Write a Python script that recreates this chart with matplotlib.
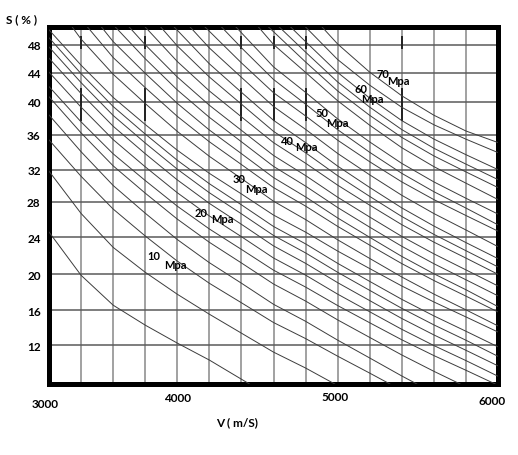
"""
Abaque S (%) - V (m/s) : courbes d'iso-resistance (Mpa)
"""
import numpy as np
import matplotlib
matplotlib.use("Agg")
import matplotlib.pyplot as plt
from matplotlib.transforms import ScaledTranslation

# axes
v_grid = [3000, 3250, 3500, 3750, 4000, 4200, 4400, 4600, 4800,
          5000, 5200, 5400, 5600, 5800, 6000]
v_ticks = [3000, 4000, 5000, 6000]
s_ticks = [12, 16, 20, 24, 28, 32, 36, 40, 44, 48]

# traits verticaux foncés (repères)
mark_v = [3250, 3750, 4400, 4600, 4800, 5400]
mark_spans = [(47.6, 49.1), (37.8, 41.7)]

V_ALL = [3250, 3500, 3750, 4000, 4200, 4400, 4600, 4800,
         5000, 5200, 5400, 5600, 5800]

curve_v = [
    [3000] + V_ALL[:5] + [4450],
    [3000] + V_ALL[:8] + [4982],
    [3000] + V_ALL[:10] + [5326],
    [3000] + V_ALL[:11] + [5494],
    [3000] + V_ALL[:12] + [5764],
    [3000] + V_ALL + [5983],
    [3000] + V_ALL + [6000],
    [3000] + V_ALL + [6000],
    [3000] + V_ALL + [6000],
    [3000] + V_ALL + [6000],
    [3000] + V_ALL + [6000],
    [3181] + V_ALL + [6000],
    [3300] + V_ALL[1:] + [6000],
    [3409] + V_ALL[1:] + [6000],
    [3517] + V_ALL[2:] + [6000],
    [3625] + V_ALL[2:] + [6000],
    [3750] + V_ALL[3:] + [6000],
    [3871] + V_ALL[3:] + [6000],
    [3976] + V_ALL[4:] + [6000],
    [4080] + V_ALL[4:] + [6000],
    [4173] + V_ALL[5:] + [6000],
    [4276] + V_ALL[5:] + [6000],
    [4366] + V_ALL[6:] + [6000],
    [4506] + V_ALL[6:] + [6000],
    [4569] + V_ALL[7:] + [6000],
    [4636] + V_ALL[7:] + [6000],
    [4707] + V_ALL[7:] + [6000],
    [4800] + V_ALL[8:] + [6000],
    [4903] + V_ALL[8:] + [6000],
]
curve_s = [
    [24.6, 19.89, 16.56, 14.29, 12.23, 10.27, 7.5],
    [31.8, 26.67, 22.92, 20.22, 17.78, 15.54, 13.37, 11.19, 9.35, 7.5],
    [35.4, 31.16, 27.16, 24.16, 21.43, 19.0, 16.83, 14.59, 12.75, 10.72,
     8.76, 7.5],
    [38.4, 34.05, 30.01, 26.7, 23.77, 21.26, 19.01, 16.66, 14.73, 12.57,
     10.51, 8.43, 7.5],
    [40.7, 36.22, 32.43, 29.05, 26.04, 23.47, 21.23, 18.92, 17.02, 14.89,
     12.88, 10.86, 8.97, 7.5],
    [42.1, 37.56, 33.81, 30.63, 27.48, 24.94, 22.7, 20.45, 18.58, 16.52,
     14.56, 12.61, 10.79, 9.09, 7.5],
    [44.1, 39.35, 35.44, 32.32, 29.1, 26.39, 24.08, 21.77, 19.91, 17.79,
     15.82, 13.81, 11.95, 10.21, 8.4],
    [46.1, 41.14, 37.03, 33.82, 30.71, 27.79, 25.46, 23.08, 21.19, 19.07,
     17.07, 15.05, 13.17, 11.4, 9.6],
    [47.7, 42.65, 38.34, 35.05, 32.05, 29.1, 26.63, 24.22, 22.32, 20.22,
     18.21, 16.21, 14.32, 12.56, 10.7],
    [49.0, 43.89, 39.43, 36.08, 33.07, 30.23, 27.63, 25.22, 23.3, 21.19,
     19.21, 17.21, 15.35, 13.59, 11.8],
    [50.1, 45.1, 40.61, 37.24, 34.22, 31.53, 28.95, 26.49, 24.59, 22.52,
     20.62, 18.7, 16.92, 15.23, 13.5],
    [50.5, 48.81, 43.81, 39.79, 36.4, 33.52, 30.88, 28.04, 25.99, 23.74,
     21.72, 19.7, 17.8, 16.04, 14.2],
    [50.5, 46.2, 41.96, 38.23, 35.19, 32.58, 29.75, 27.49, 25.23, 23.16,
     21.16, 19.31, 17.57, 15.8],
    [50.5, 48.47, 43.94, 39.81, 36.57, 33.83, 31.0, 28.58, 26.17, 24.01,
     21.94, 20.06, 18.28, 16.4],
    [50.5, 46.03, 41.64, 38.11, 35.19, 32.37, 29.93, 27.33, 25.14, 23.04,
     21.15, 19.39, 17.6],
    [50.5, 48.03, 43.43, 39.58, 36.53, 33.62, 31.25, 28.54, 26.27, 24.11,
     22.22, 20.48, 18.7],
    [50.5, 45.63, 41.5, 38.17, 35.09, 32.73, 30.05, 27.59, 25.42, 23.49,
     21.76, 20.0],
    [50.5, 47.86, 43.43, 39.71, 36.41, 33.93, 31.24, 28.64, 26.33, 24.34,
     22.56, 20.8],
    [50.5, 45.3, 41.31, 37.75, 35.1, 32.4, 29.76, 27.29, 25.27, 23.44, 21.7],
    [50.5, 47.57, 43.38, 39.43, 36.65, 33.85, 31.34, 28.78, 26.66, 24.83,
     23.0],
    [50.5, 45.43, 41.26, 38.28, 35.37, 32.9, 30.46, 28.24, 26.44, 24.7],
    [50.5, 47.6, 43.09, 39.71, 36.61, 33.98, 31.53, 29.23, 27.27, 25.4],
    [50.5, 44.86, 41.3, 37.92, 35.17, 32.71, 30.46, 28.41, 26.6],
    [50.5, 48.07, 44.07, 40.14, 37.15, 34.51, 32.34, 30.3, 28.25],
    [50.5, 45.56, 41.5, 38.35, 35.69, 33.57, 31.71, 29.75],
    [50.5, 46.97, 42.74, 39.35, 36.62, 34.45, 32.63, 30.75],
    [50.5, 48.46, 44.06, 40.51, 37.71, 35.5, 33.71, 32.0],
    [50.5, 45.91, 42.3, 39.33, 37.21, 35.49, 33.95],
    [50.5, 48.13, 44.1, 40.83, 38.37, 36.45, 35.1],
]

# étiquettes des courbes
labels_mpa = ["10", "20", "30", "40", "50", "60", "70"]
label_v = [3815, 4147, 4386, 4686, 4903, 5145, 5280]
label_s = [22.05, 26.8, 30.9, 35.3, 38.7, 41.9, 43.9]
unit_v = [3984, 4283, 4494, 4806, 5000, 5217, 5377]
unit_s = [21.1, 26.1, 29.6, 34.6, 37.5, 40.4, 42.9]

# échelles non uniformes de l'abaque d'origine
x_knots = [3000, 4000, 5000, 6000]
x_pos = [0, 4, 9, 14]
y_knots = [7.5, 12, 16, 20, 24, 28, 32, 36, 40, 44, 48, 50.5]
y_pos = [0, 39, 74, 110, 147, 183, 215, 250, 283, 312, 340, 358]


def fx(v):
    return np.interp(v, x_knots, x_pos)


def fx_inv(p):
    return np.interp(p, x_pos, x_knots)


def fy(s):
    return np.interp(s, y_knots, y_pos)


def fy_inv(p):
    return np.interp(p, y_pos, y_knots)


FONT = "Lato"

fig = plt.figure(figsize=(5.18, 4.56), dpi=100)
ax = fig.add_axes([49 / 518, 71 / 456, 449 / 518, 357 / 456])
ax.set_xscale("function", functions=(fx, fx_inv))
ax.set_yscale("function", functions=(fy, fy_inv))
ax.set_xlim(3000, 6000)
ax.set_ylim(7.5, 50.5)

for v in v_grid:
    ax.axvline(v, color="#9a9a9a", lw=1.3, zorder=1)
for s in s_ticks:
    ax.axhline(s, color="#5a5a5a", lw=1.1, zorder=1)

for v in mark_v:
    for lo, hi in mark_spans:
        ax.plot([v, v], [lo, hi], color="#222222", lw=1.4, zorder=2)

for vs, ss in zip(curve_v, curve_s):
    ax.plot(vs, ss, color="#3c3c3c", lw=0.7, zorder=3)

for t, v, s, uv, us in zip(labels_mpa, label_v, label_s, unit_v, unit_s):
    ax.text(v, s, t, ha="center", va="center", fontsize=8,
            family=FONT, weight="bold", zorder=4)
    ax.text(uv, us, "Mpa", ha="center", va="center", fontsize=8,
            family=FONT, weight="bold", zorder=4)

ax.set_xticks(v_ticks)
ax.set_xticklabels([str(v) for v in v_ticks], family=FONT, weight="bold",
                   fontsize=8.5)
ax.set_yticks(s_ticks)
ax.set_yticklabels([str(s) for s in s_ticks], family=FONT, weight="bold",
                   fontsize=8.5)
ax.xaxis.set_minor_locator(plt.NullLocator())
ax.yaxis.set_minor_locator(plt.NullLocator())
ax.tick_params(axis="both", length=0)
ax.tick_params(axis="x", pad=8)
ax.tick_params(axis="y", pad=6)

# décalages des étiquettes de l'axe V comme sur l'original (en points)
shifts = [(-3, -2), (0, 2), (-2, 3), (-4, 0)]
for lab, (dx, dy) in zip(ax.get_xticklabels(), shifts):
    lab.set_transform(lab.get_transform()
                      + ScaledTranslation(dx / 72, dy / 72,
                                          fig.dpi_scale_trans))

for sp in ax.spines.values():
    sp.set_linewidth(3.6)
    sp.set_color("black")

fig.text(22 / 518, 1 - 20 / 456, "S ( % )", ha="center", va="center",
         family=FONT, weight="bold", fontsize=8.5)
fig.text(237 / 518, 1 - 423 / 456, "V ( m/S)", ha="center", va="center",
         family=FONT, weight="bold", fontsize=8.5)

fig.savefig("out.png", dpi=100)
